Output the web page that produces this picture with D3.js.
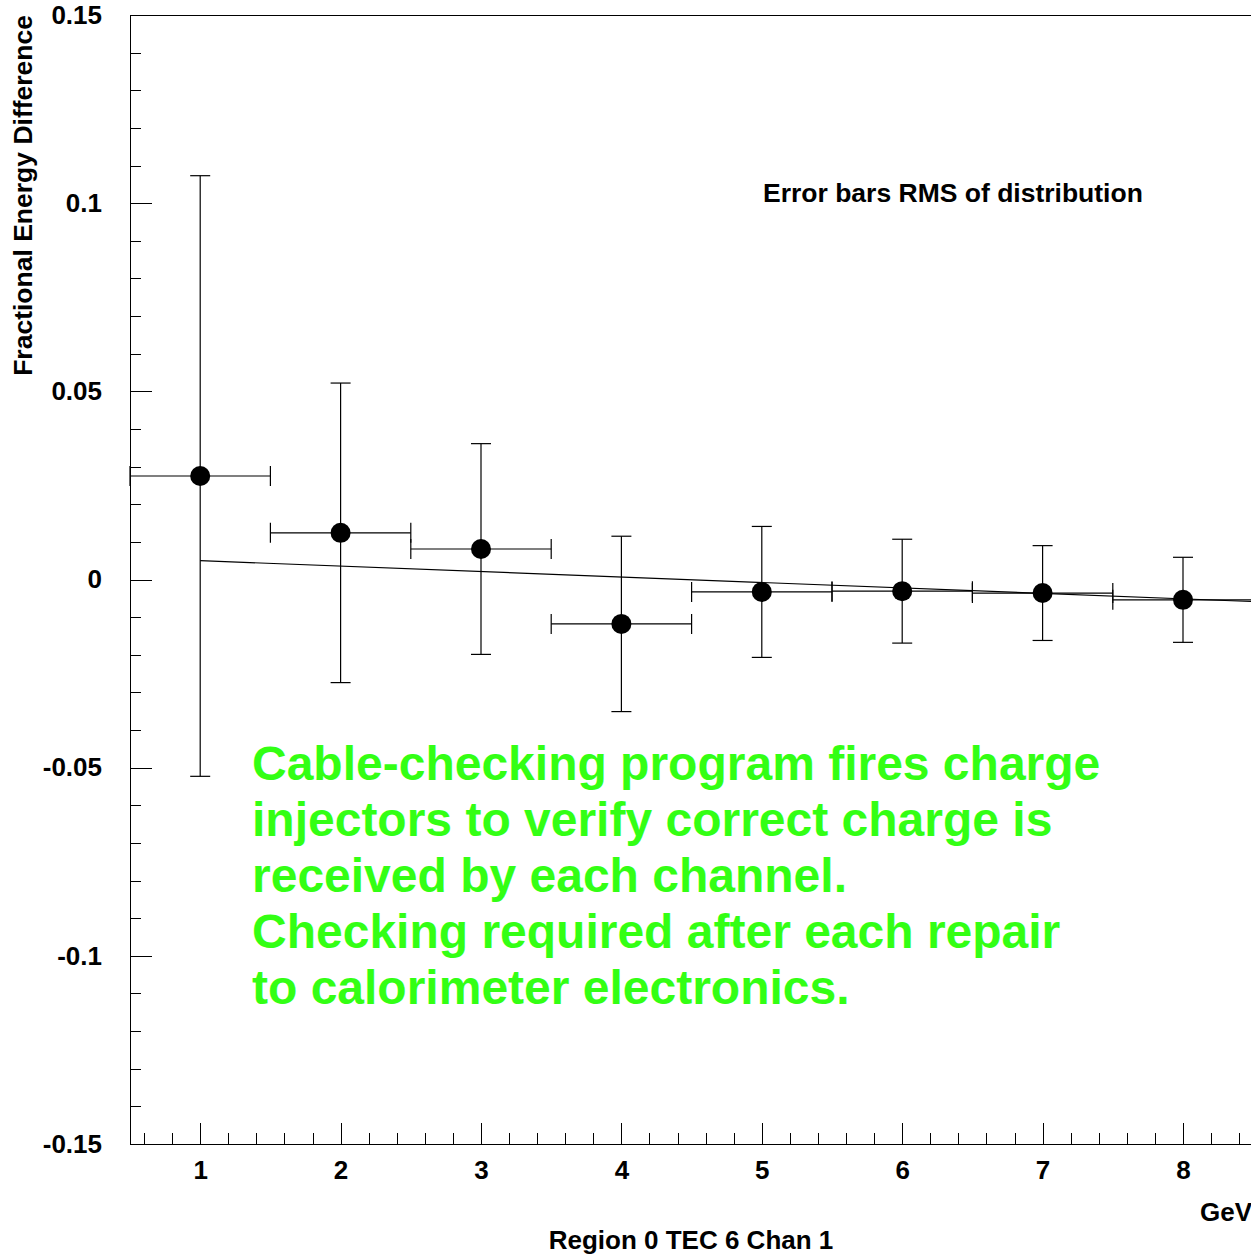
<!DOCTYPE html>
<html>
<head>
<meta charset="utf-8">
<script src="https://cdn.jsdelivr.net/npm/d3@7"></script>
<style>
  body { margin: 0; background: #fff; }
  svg { display: block; font-family: "Liberation Sans", Arial, Helvetica, sans-serif; font-weight: bold; }
  .axis path, .axis line { stroke: #000; shape-rendering: crispEdges; }
  .axis text { font-size: 26px; font-weight: bold; fill: #000; }
</style>
</head>
<body>
<main></main>
<script>
// data
const energies = [1, 2, 3, 4, 5, 6, 7, 8]
const fracDiff = [0.0275, 0.0124, 0.0081, -0.0118, -0.0033, -0.0031, -0.0036, -0.0054]
const rmsErr   = [0.0798, 0.0398, 0.0280, 0.0233, 0.0174, 0.0138, 0.0126, 0.0113]
const binHalf  = [0.5, 0.5, 0.5, 0.5, 0.5, 0.5, 0.5, 0.5]
const fitX = [1, 8.8]
const fitY = [0.0050, -0.0063]
const xMajor = [1, 2, 3, 4, 5, 6, 7, 8]
const yMajor = [-0.15, -0.1, -0.05, 0, 0.05, 0.1, 0.15]
const yTickLabels = ['-0.15', '-0.1', '-0.05', '0', '0.05', '0.1', '0.15']
const noteLines = [
    'Cable-checking program fires charge',
    'injectors to verify correct charge is',
    'received by each channel.',
    'Checking required after each repair',
    'to calorimeter electronics.'
]

// sizes
const sizeOfSVG = { width: 1251, height: 1254 }
const plot = { left: 130, top: 15, bottom: 1144 }

const svg = d3.select('main')
    .append('svg')
    .attr('width', sizeOfSVG.width)
    .attr('height', sizeOfSVG.height)

// scales
const xScale = d3.scaleLinear()
    .domain([0.5, 8.8])
    .range([plot.left, plot.left + 8.3 * 140.4])
const yScale = d3.scaleLinear()
    .domain([-0.15, 0.15])
    .range([plot.bottom, plot.top])

// frame top (right side runs off the page)
svg.append('line')
    .attr('x1', plot.left).attr('x2', xScale(8.8))
    .attr('y1', plot.top + 0.5).attr('y2', plot.top + 0.5)
    .attr('stroke', '#000')

// minor ticks
const xMinor = d3.range(6, 88, 2).map(d => d / 10).filter(d => !xMajor.includes(d))
const yMinor = d3.range(-15, 16, 1).map(d => d / 100).filter(d => Math.abs(Math.round(d * 100)) % 5 !== 0)

svg.append('g')
    .attr('class', 'axis')
    .attr('transform', `translate(0,${plot.bottom})`)
    .call(d3.axisBottom(xScale).tickValues(xMinor).tickSize(-11).tickFormat(''))
    .call(g => g.select('.domain').remove())

svg.append('g')
    .attr('class', 'axis')
    .attr('transform', `translate(${plot.left},0)`)
    .call(d3.axisLeft(yScale).tickValues(yMinor).tickSize(-11).tickFormat(''))
    .call(g => g.select('.domain').remove())

// major axes
svg.append('g')
    .attr('class', 'axis')
    .attr('transform', `translate(0,${plot.bottom})`)
    .call(d3.axisBottom(xScale).tickValues(xMajor).tickSizeInner(-21).tickSizeOuter(0).tickPadding(17).tickFormat(d3.format('d')))

svg.append('g')
    .attr('class', 'axis')
    .attr('transform', `translate(${plot.left},0)`)
    .call(d3.axisLeft(yScale).tickValues(yMajor).tickSizeInner(-22).tickSizeOuter(0).tickPadding(28)
        .tickFormat((d, i) => yTickLabels[i]))

// fit line
svg.append('line')
    .attr('x1', xScale(fitX[0])).attr('y1', yScale(fitY[0]))
    .attr('x2', xScale(fitX[1])).attr('y2', yScale(fitY[1]))
    .attr('stroke', '#000')
    .attr('stroke-width', 1.2)

// error bars
const points = energies.map((e, i) => ({ x: e, y: fracDiff[i], err: rmsErr[i], dx: binHalf[i] }))
const cap = 10

const bars = svg.append('g').attr('stroke', '#000').attr('stroke-width', 1.2)
points.forEach(p => {
    const cx = xScale(p.x)
    const cy = yScale(p.y)
    const yt = yScale(p.y + p.err)
    const yb = yScale(p.y - p.err)
    const xl = xScale(p.x - p.dx)
    const xr = xScale(p.x + p.dx)
    bars.append('line').attr('x1', cx).attr('x2', cx).attr('y1', yt).attr('y2', yb)
    bars.append('line').attr('x1', cx - cap).attr('x2', cx + cap).attr('y1', yt).attr('y2', yt)
    bars.append('line').attr('x1', cx - cap).attr('x2', cx + cap).attr('y1', yb).attr('y2', yb)
    bars.append('line').attr('x1', xl).attr('x2', xr).attr('y1', cy).attr('y2', cy)
    bars.append('line').attr('x1', xl).attr('x2', xl).attr('y1', cy - cap).attr('y2', cy + cap)
    bars.append('line').attr('x1', xr).attr('x2', xr).attr('y1', cy - cap).attr('y2', cy + cap)
})

// markers
svg.selectAll('circle.pt')
    .data(points)
    .enter()
    .append('circle')
    .attr('class', 'pt')
    .attr('cx', d => xScale(d.x))
    .attr('cy', d => yScale(d.y))
    .attr('r', 10)
    .attr('fill', '#000')

// labels
svg.append('text')
    .attr('transform', 'translate(32,15) rotate(-90)')
    .attr('text-anchor', 'end')
    .style('font-size', '26.5px')
    .text('Fractional Energy Difference')

svg.append('text')
    .attr('x', 1200)
    .attr('y', 1221)
    .style('font-size', '26px')
    .text('GeV')

svg.append('text')
    .attr('x', 691)
    .attr('y', 1249)
    .attr('text-anchor', 'middle')
    .style('font-size', '26px')
    .text('Region 0 TEC 6 Chan 1')

svg.append('text')
    .attr('x', 763)
    .attr('y', 202)
    .style('font-size', '26.5px')
    .text('Error bars RMS of distribution')

svg.append('g')
    .selectAll('text')
    .data(noteLines)
    .enter()
    .append('text')
    .attr('x', 252)
    .attr('y', (d, i) => 780 + i * 56)
    .style('font-size', '48px')
    .attr('fill', '#33ff14')
    .text(d => d)
</script>
</body>
</html>
